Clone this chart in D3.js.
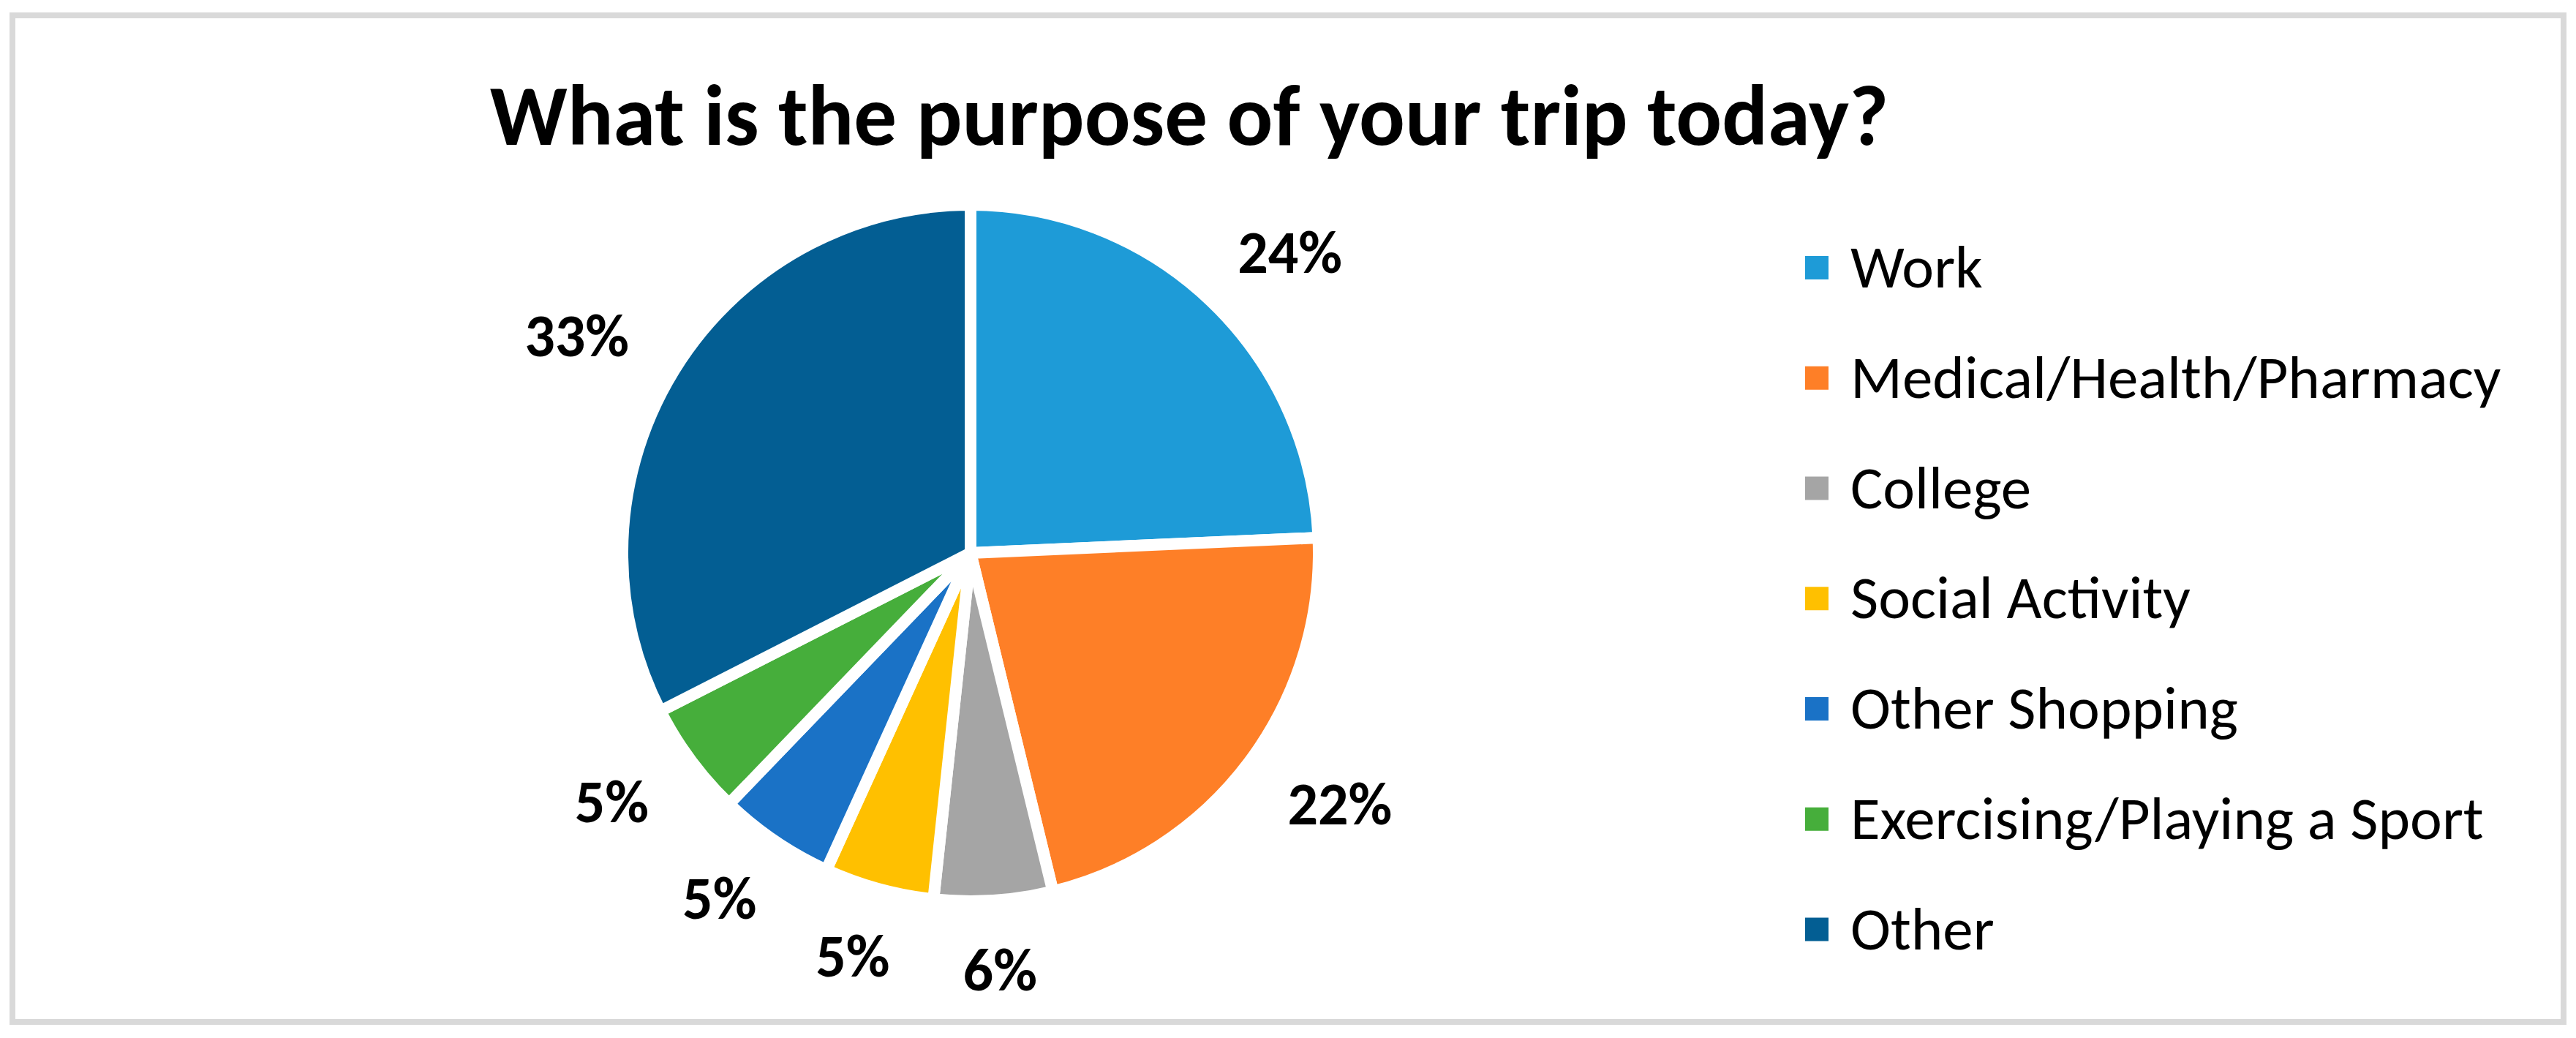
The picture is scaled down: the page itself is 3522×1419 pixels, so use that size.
<!DOCTYPE html>
<html>
<head>
<meta charset="utf-8">
<script src="https://cdn.jsdelivr.net/npm/d3@7"></script>
<style>
  body { margin: 0; background: #fff; }
  text { font-family: Calibri, Carlito, Lato, sans-serif; }
</style>
</head>
<body>
<div id="wrapper"></div>
<script>
// data
const categories = ['Work', 'Medical/Health/Pharmacy', 'College', 'Social Activity',
    'Other Shopping', 'Exercising/Playing a Sport', 'Other']
const shares = [24.3, 21.9, 5.5, 5.1, 5.4, 5.3, 32.5]
const sliceColors = ['#1e9bd7', '#fe7f27', '#a5a5a5', '#ffc000', '#1a72c6', '#46ae3b', '#035e93']
const title = 'What is the purpose of your trip today?'

const dimensions = {
    width: 3522,
    height: 1419,
    cx: 1327,
    cy: 756,
    radius: 476
}

const svg = d3.select('#wrapper').append('svg')
    .attr('width', dimensions.width)
    .attr('height', dimensions.height)

// chart frame
svg.append('rect')
    .attr('x', 17)
    .attr('y', 21)
    .attr('width', 3488)
    .attr('height', 1376)
    .attr('fill', '#fff')
    .attr('stroke', '#d9d9d9')
    .attr('stroke-width', 8)

svg.append('text')
    .attr('x', 1626)
    .attr('y', 198)
    .attr('text-anchor', 'middle')
    .style('font-size', '117px')
    .style('font-weight', 'bold')
    .text(title)

const data = categories.map((c, i) => ({ name: c, value: shares[i] }))

const color = d3.scaleOrdinal()
    .domain(categories)
    .range(sliceColors)

const pie = d3.pie()
    .sort(null)
    .value(d => d.value)

const arcs = pie(data)

const arc = d3.arc()
    .innerRadius(0)
    .outerRadius(dimensions.radius)

const bounds = svg.append('g')
    .attr('transform', `translate(${dimensions.cx}, ${dimensions.cy})`)

bounds.selectAll('path')
    .data(arcs)
    .join('path')
    .attr('d', arc)
    .attr('fill', d => color(d.data.name))
    .attr('stroke', '#fff')
    .attr('stroke-width', 16)
    .attr('stroke-linejoin', 'miter')

// outside-end labels: anchor on a circle, box pushed out along the direction
const anchorRadius = 540
const labels = bounds.selectAll('text.pct')
    .data(arcs)
    .join('text')
    .attr('class', 'pct')
    .attr('text-anchor', 'middle')
    .style('font-size', '82px')
    .style('font-weight', 'bold')
    .text(d => Math.round(d.data.value) + '%')

labels.each(function (d) {
    const a = (d.startAngle + d.endAngle) / 2
    const hw = this.getComputedTextLength() / 2 + 20
    const hh = 30
    const x = anchorRadius * Math.sin(a) + hw * Math.sin(a)
    const y = -anchorRadius * Math.cos(a) - hh * Math.cos(a)
    d3.select(this)
        .attr('x', x)
        .attr('y', y + 29)
})

// legend
const legendY = d3.scalePoint()
    .domain(categories)
    .range([366, 1270.5])

const legend = svg.append('g')

const items = legend.selectAll('g')
    .data(categories)
    .join('g')
    .attr('transform', d => `translate(0, ${legendY(d)})`)

items.append('rect')
    .attr('x', 2468)
    .attr('y', -16)
    .attr('width', 32)
    .attr('height', 32)
    .attr('fill', d => color(d))

items.append('text')
    .attr('x', 2530)
    .attr('y', 27)
    .style('font-size', '83px')
    .text(d => d)
</script>
</body>
</html>
